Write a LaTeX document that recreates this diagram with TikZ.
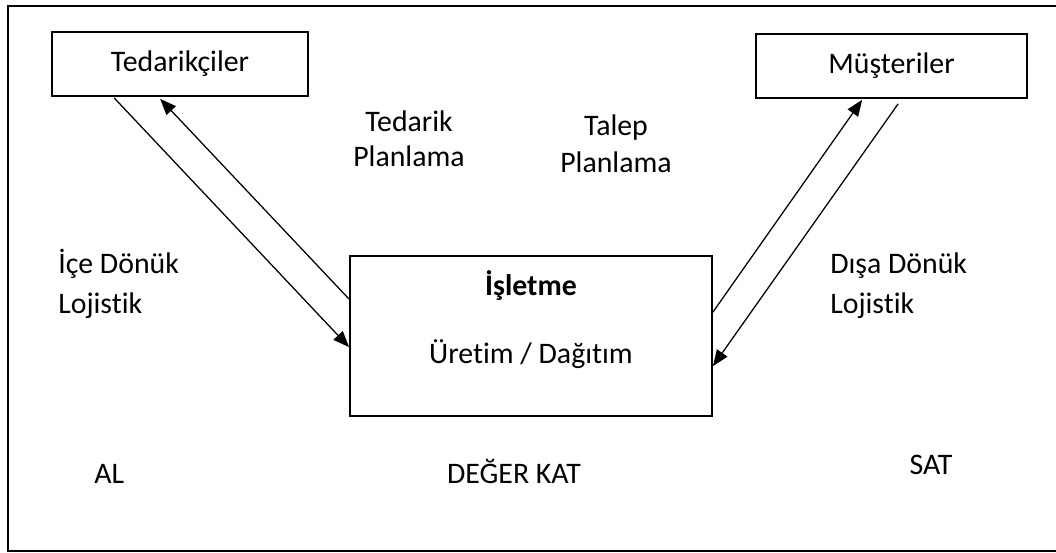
\documentclass[tikz,border=0pt]{standalone}
\usepackage{fontspec}
\setmainfont[Ligatures=NoCommon]{Carlito}
\usetikzlibrary{arrows.meta,positioning,calc}

\begin{document}
\begin{tikzpicture}[x=0.025cm,y=-0.025cm,>={Triangle[length=11.5pt,width=9pt]},
		kutu/.style={draw, line width=1.2pt, inner sep=0pt},
		yazi/.style={font=\fontsize{21.2}{25}\selectfont, inner sep=0pt},
		ok/.style={line width=0.9pt, ->}]
		\useasboundingbox (0,0) rectangle (1056,552);
		% cerceve (sag kenar acik)
		\draw [line width=1.2pt] (1056,6) -- (8,6) -- (8,551) -- (1056,551);

		\node (ted) at (180,64) [kutu, yazi, minimum width=6.4cm, minimum height=1.6cm] {Tedarikçiler};
		\node (mus) at (891.5,66) [kutu, yazi, minimum width=6.775cm, minimum height=1.6cm] {Müşteriler};
		\node (isl) at (531,336) [kutu, minimum width=9.05cm, minimum height=4cm] {};
		\node (islad) at (531,295) [yazi, anchor=base] {\textbf{İşletme}};
		\node (uretim) at (531,363) [yazi, anchor=base] {Üretim / Dağıtım};

		% iki satirli yazilar: base = alt satirin taban cizgisi
		\node (tplan) at (409,166) [yazi, anchor=base, align=center, font=\fontsize{21.2}{24.8}\selectfont] {Tedarik\\Planlama};
		\node (talep) at (616,172) [yazi, anchor=base, align=center, font=\fontsize{21.2}{26.2}\selectfont] {Talep\\Planlama};
		\node (ice) at (58,313) [yazi, anchor=base west, align=left, font=\fontsize{21.2}{28.3}\selectfont] {İçe Dönük\\Lojistik};
		\node (disa) at (830,313) [yazi, anchor=base west, align=left, font=\fontsize{21.2}{28.3}\selectfont] {Dışa Dönük\\Lojistik};

		\node (al) at (94,483) [yazi, anchor=base west] {AL};
		\node (deger) at (514,483) [yazi, anchor=base] {DEĞER KAT};
		\node (sat) at (931,474) [yazi, anchor=base] {SAT};

		% al: tedarikci <-> isletme
		\draw [ok] ($(ted.south west)+(63,1)$) -- ($(isl.north west)+(0,92)$);
		\draw [ok] ($(isl.north west)+(0,44)$) -- ($(ted.south west)+(109,2)$);
		% sat: isletme <-> musteri
		\draw [ok] ($(isl.north east)+(0,57)$) -- ($(mus.south west)+(107,1)$);
		\draw [ok] ($(mus.south west)+(143,5)$) -- ($(isl.north east)+(0,111)$);
	\end{tikzpicture}
\end{document}
